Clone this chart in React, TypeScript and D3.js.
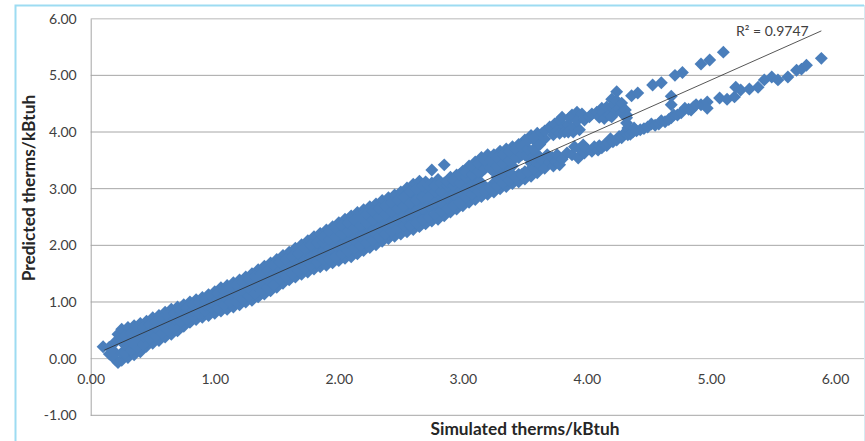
import React, { useEffect, useRef } from 'react';
import * as d3 from 'd3';

const width = 865;
const height = 441;

const xTicks = [0, 1, 2, 3, 4, 5, 6];
const yTicks = [-1, 0, 1, 2, 3, 4, 5, 6];

// dense part of the cloud: simulated value, then the predicted values read at it
const denseColumns: [number, number[]][] = [
  [0.10, [0.21]],
  [0.15, [0.08, 0.20]],
  [0.20, [-0.02, 0.10, 0.30]],
  [0.22, [-0.07, 0.43]],
  [0.25, [-0.03, 0.10, 0.30, 0.42, 0.52]],
  [0.30, [0.02, 0.20, 0.40, 0.55]],
  [0.35, [0.07, 0.18, 0.30, 0.50, 0.58]],
  [0.40, [0.12, 0.20, 0.40, 0.62]],
  [0.45, [0.22, 0.30, 0.50, 0.66]],
  [0.50, [0.27, 0.40, 0.60, 0.72]],
  [0.55, [0.32, 0.50, 0.70, 0.76]],
  [0.60, [0.38, 0.60, 0.82]],
  [0.65, [0.43, 0.50, 0.70, 0.87]],
  [0.70, [0.49, 0.60, 0.80, 0.91]],
  [0.75, [0.57, 0.70, 0.90, 0.95]],
  [0.80, [0.64, 0.80, 1.00]],
  [0.85, [0.69, 0.90, 1.04]],
  [0.90, [0.73, 0.80, 1.00, 1.08]],
  [0.95, [0.76, 0.95, 1.13]],
  [1.00, [0.80, 1.00, 1.18]],
  [1.05, [0.84, 0.95, 1.10, 1.25]],
  [1.10, [0.87, 1.00, 1.20, 1.29]],
  [1.15, [0.91, 1.05, 1.20, 1.34]],
  [1.20, [0.95, 1.10, 1.30, 1.39]],
  [1.25, [1.00, 1.20, 1.44]],
  [1.30, [1.03, 1.10, 1.30, 1.50]],
  [1.35, [1.09, 1.20, 1.40, 1.57]],
  [1.40, [1.14, 1.30, 1.50, 1.63]],
  [1.45, [1.20, 1.40, 1.60, 1.69]],
  [1.50, [1.26, 1.45, 1.60, 1.75]],
  [1.55, [1.33, 1.50, 1.70, 1.82]],
  [1.60, [1.39, 1.60, 1.80, 1.88]],
  [1.65, [1.44, 1.55, 1.70, 1.85, 1.95]],
  [1.70, [1.49, 1.60, 1.80, 2.01]],
  [1.75, [1.53, 1.70, 1.90, 2.08]],
  [1.80, [1.58, 1.80, 2.00, 2.15]],
  [1.85, [1.62, 1.70, 1.90, 2.10, 2.21]],
  [1.90, [1.65, 1.80, 2.00, 2.20, 2.27]],
  [1.95, [1.69, 1.90, 2.10, 2.33]],
  [2.00, [1.73, 1.80, 2.00, 2.20, 2.40]],
  [2.05, [1.77, 1.90, 2.10, 2.30, 2.46]],
  [2.10, [1.80, 2.00, 2.20, 2.40, 2.52]],
  [2.15, [1.85, 2.10, 2.30, 2.45, 2.58]],
  [2.20, [1.91, 2.00, 2.20, 2.40, 2.63]],
  [2.25, [1.96, 2.10, 2.30, 2.50, 2.68]],
  [2.30, [2.01, 2.20, 2.40, 2.60, 2.73]],
  [2.35, [2.07, 2.30, 2.50, 2.65, 2.79]],
  [2.40, [2.12, 2.20, 2.40, 2.60, 2.84]],
  [2.45, [2.16, 2.30, 2.50, 2.70, 2.89]],
  [2.50, [2.20, 2.40, 2.60, 2.80, 2.94]],
  [2.55, [2.24, 2.50, 2.70, 2.90, 3.01]],
  [2.60, [2.28, 2.40, 2.60, 2.80, 3.08]],
  [2.65, [2.33, 2.50, 2.70, 2.90, 3.13]],
  [2.70, [2.38, 2.60, 2.80, 3.00, 3.12]],
  [2.75, [2.43, 2.70, 2.90, 3.10, 3.33]],
  [2.80, [2.46, 2.60, 2.80, 3.00, 3.16]],
  [2.85, [2.52, 2.70, 2.90, 3.10, 3.42]],
  [2.90, [2.59, 2.80, 3.00, 3.20]],
  [2.95, [2.64, 2.90, 3.10, 3.24]],
  [3.00, [2.70, 2.80, 3.00, 3.20, 3.31]],
  [3.05, [2.76, 2.90, 3.10, 3.30, 3.40]],
  [3.10, [2.81, 3.00, 3.20, 3.35, 3.47]],
  [3.15, [2.86, 3.10, 3.30, 3.45, 3.55]],
  [3.20, [2.90, 3.00, 3.40, 3.60]],
  [3.25, [2.94, 3.10, 3.30, 3.50, 3.60]],
  [3.30, [3.00, 3.20, 3.40, 3.66]],
  [3.35, [3.04, 3.15, 3.30, 3.50, 3.70]],
  [3.40, [3.09, 3.20, 3.40, 3.60, 3.74]],
  [3.45, [3.12, 3.25, 3.55, 3.78]],
  [3.50, [3.17, 3.30, 3.60, 3.86]],
  [3.55, [3.22, 3.45, 3.65, 3.94]],
  [3.60, [3.28, 3.40, 3.60, 3.80, 3.98]],
];

// points between those columns, inside the band
const innerColumns: [number, number[]][] = [
  [0.275, [0.10, 0.25, 0.40]],
  [0.325, [0.15, 0.30, 0.45]],
  [0.375, [0.20, 0.35, 0.50]],
  [0.425, [0.25, 0.40, 0.55]],
  [0.475, [0.35, 0.50, 0.60]],
  [0.525, [0.40, 0.55, 0.65]],
  [0.575, [0.45, 0.60, 0.70]],
  [0.625, [0.50, 0.65, 0.75]],
  [0.675, [0.55, 0.70, 0.80]],
  [0.725, [0.65, 0.80, 0.85]],
  [0.775, [0.70, 0.85, 0.90]],
  [0.825, [0.75, 0.85, 0.95]],
  [0.875, [0.80, 0.90, 1.00]],
  [0.925, [0.85, 0.95, 1.05]],
  [0.975, [0.90, 1.00, 1.10]],
  [1.025, [0.90, 1.05, 1.15]],
  [1.075, [0.95, 1.10, 1.20]],
  [1.125, [1.00, 1.15, 1.25]],
  [1.175, [1.00, 1.15, 1.30]],
  [1.225, [1.05, 1.20, 1.35]],
  [1.275, [1.10, 1.25, 1.40]],
  [1.325, [1.15, 1.30, 1.45]],
  [1.375, [1.20, 1.35, 1.50]],
  [1.425, [1.25, 1.40, 1.55]],
  [1.475, [1.30, 1.50, 1.65]],
  [1.525, [1.40, 1.55, 1.70]],
  [1.575, [1.45, 1.60, 1.75]],
  [1.625, [1.50, 1.65, 1.80]],
  [1.675, [1.55, 1.70, 1.85]],
  [1.725, [1.60, 1.75, 1.95]],
  [1.775, [1.65, 1.80, 2.00]],
  [1.825, [1.70, 1.85, 2.05]],
  [1.875, [1.75, 1.90, 2.05, 2.15]],
  [1.925, [1.75, 1.95, 2.10, 2.25]],
  [1.975, [1.80, 2.00, 2.15, 2.30]],
  [2.025, [1.85, 2.00, 2.20, 2.35]],
  [2.075, [1.90, 2.05, 2.25, 2.40]],
  [2.125, [1.95, 2.10, 2.30, 2.45]],
  [2.175, [2.00, 2.15, 2.35, 2.50]],
  [2.225, [2.05, 2.20, 2.40, 2.55]],
  [2.275, [2.10, 2.25, 2.45, 2.60]],
  [2.325, [2.15, 2.30, 2.50, 2.65]],
  [2.375, [2.20, 2.35, 2.55, 2.70]],
  [2.425, [2.25, 2.40, 2.60, 2.75]],
  [2.475, [2.30, 2.45, 2.65, 2.80]],
  [2.525, [2.35, 2.50, 2.70, 2.85]],
  [2.575, [2.35, 2.55, 2.75, 2.95]],
  [2.625, [2.40, 2.60, 2.80, 3.00]],
  [2.675, [2.45, 2.65, 2.85, 3.05]],
  [2.725, [2.50, 2.70, 2.85, 3.05]],
  [2.775, [2.55, 2.75, 2.95, 3.05]],
  [2.825, [2.60, 2.75, 2.95, 3.10]],
  [2.875, [2.65, 2.85, 3.05, 3.12]],
  [2.925, [2.70, 2.90, 3.05, 3.15]],
  [2.975, [2.75, 2.95, 3.10, 3.25]],
  [3.025, [2.85, 3.00, 3.20, 3.30]],
  [3.075, [2.90, 3.05, 3.25, 3.40]],
  [3.125, [2.95, 3.10, 3.30, 3.45]],
  [3.175, [2.95, 3.35, 3.50]],
  [3.225, [3.00, 3.35, 3.50]],
  [3.275, [3.05, 3.20, 3.40, 3.55]],
  [3.325, [3.10, 3.25, 3.45, 3.60]],
  [3.375, [3.15, 3.30, 3.50, 3.65]],
  [3.425, [3.20, 3.55, 3.70]],
  [3.475, [3.25, 3.60, 3.75]],
  [3.525, [3.30, 3.55, 3.70, 3.85]],
  [3.575, [3.35, 3.50, 3.70, 3.90]],
];

// upper arm of the cloud above x = 3.6
const upperArm: [number, number][] = [
  [3.62, 3.78], [3.64, 3.98], [3.66, 3.88], [3.66, 4.02], [3.70, 4.09], [3.73, 3.95],
  [3.74, 4.14], [3.76, 4.02], [3.78, 4.21], [3.78, 3.98], [3.80, 4.26], [3.82, 4.10],
  [3.82, 4.00], [3.85, 4.13], [3.85, 4.00], [3.86, 4.25], [3.88, 4.30], [3.89, 4.00],
  [3.90, 4.09], [3.92, 4.35], [3.94, 4.04], [3.92, 4.20], [3.96, 4.32], [3.98, 4.21],
  [4.02, 4.27], [4.04, 4.32], [4.08, 4.35], [4.10, 4.26], [4.12, 4.42], [4.13, 4.34],
  [4.14, 4.24], [4.16, 4.44], [4.18, 4.30], [4.20, 4.44], [4.20, 4.27], [4.20, 4.58],
  [4.22, 4.48], [4.24, 4.71], [4.24, 4.55], [4.24, 4.38], [4.26, 4.42], [4.28, 4.51],
  [4.28, 4.34], [4.31, 4.39], [4.32, 4.30], [4.32, 4.25], [4.36, 4.64], [4.41, 4.69],
  [4.53, 4.83], [4.60, 4.87], [4.71, 5.00], [4.77, 5.05], [4.92, 5.20], [4.99, 5.27],
  [5.10, 5.41], [4.68, 4.63], [4.68, 4.48],
];

// lower arm of the cloud above x = 3.6
const lowerArm: [number, number][] = [
  [3.62, 3.56], [3.62, 3.42], [3.64, 3.50], [3.66, 3.36], [3.68, 3.60], [3.70, 3.46],
  [3.72, 3.55], [3.73, 3.40], [3.75, 3.48], [3.76, 3.60], [3.78, 3.42], [3.80, 3.52],
  [3.84, 3.63], [3.88, 3.60], [3.90, 3.74], [3.93, 3.54], [3.94, 3.70], [3.97, 3.77],
  [3.98, 3.63], [4.00, 3.70], [4.04, 3.66], [4.06, 3.74], [4.09, 3.68], [4.10, 3.76],
  [4.12, 3.72], [4.14, 3.77], [4.16, 3.76], [4.17, 3.81], [4.19, 3.88], [4.21, 3.83],
  [4.24, 3.86], [4.26, 3.92], [4.28, 3.90], [4.29, 3.95], [4.31, 3.98], [4.33, 3.95],
  [4.33, 4.07], [4.32, 4.16], [4.35, 3.96], [4.37, 4.00], [4.38, 4.07], [4.40, 4.02],
  [4.43, 4.04], [4.46, 4.06], [4.49, 4.09], [4.52, 4.14], [4.55, 4.12], [4.58, 4.14],
  [4.60, 4.20], [4.63, 4.18], [4.66, 4.22], [4.68, 4.25], [4.70, 4.30], [4.73, 4.30],
  [4.76, 4.34], [4.79, 4.42], [4.82, 4.40], [4.84, 4.39], [4.86, 4.44], [4.88, 4.48],
  [4.92, 4.48], [4.97, 4.53], [4.97, 4.42], [5.07, 4.60], [5.13, 4.58], [5.19, 4.62],
  [5.20, 4.79], [5.24, 4.74], [5.31, 4.76], [5.38, 4.79], [5.43, 4.92], [5.49, 4.97],
  [5.54, 4.92], [5.62, 4.97], [5.69, 5.09], [5.73, 5.11], [5.77, 5.18], [5.89, 5.30],
];

const trendSimulated = [0.11, 5.89];
const trendPredicted = [0.15, 5.785];
const trendLabel = 'R² = 0.9747';

const xTitle = 'Simulated therms/kBtuh';
const yTitle = 'Predicted therms/kBtuh';

const font = 'Lato, sans-serif';

const App = () => {
  const ref = useRef<SVGSVGElement>(null);

  useEffect(() => {
    const svg = d3.select(ref.current);
    svg.selectAll('*').remove();

    const x = d3.scaleLinear().domain([0, 6]).range([90.7, 835]);
    const y = d3.scaleLinear().domain([-1, 6]).range([415.3, 18.7]);
    const plotRight = 864;

    // outer frame of the pasted picture
    svg.append('path')
      .attr('d', `M15.5,${height}V5.5H${plotRight}`)
      .attr('fill', 'none')
      .attr('stroke', '#9ddcf2')
      .attr('stroke-width', 2);
    svg.append('line')
      .attr('x1', 864.5).attr('x2', 864.5).attr('y1', 5).attr('y2', height)
      .attr('stroke', '#d6eaf2');

    // gridlines
    svg.append('g').selectAll('line')
      .data(yTicks)
      .join('line')
      .attr('x1', x(0))
      .attr('x2', plotRight)
      .attr('y1', (d) => y(d))
      .attr('y2', (d) => y(d))
      .attr('stroke', (d) => (d === 6 ? '#d0d0d0' : d === 0 ? '#bdbdbd' : '#a6a6a6'))
      .attr('stroke-width', (d) => (d === 6 ? 1.5 : 1));

    // axes
    const tickText = (d: d3.NumberValue) => (+d).toFixed(2);
    const gy = svg.append('g')
      .attr('transform', `translate(${x(0)},0)`)
      .call(d3.axisLeft(y).tickValues(yTicks).tickFormat(tickText).tickSize(0).tickPadding(14));
    gy.select('.domain').attr('stroke', '#a6a6a6');

    const gx = svg.append('g')
      .attr('transform', `translate(0,${y(0)})`)
      .call(d3.axisBottom(x).tickValues(xTicks).tickFormat(tickText).tickSize(0).tickPadding(15));
    gx.select('.domain').remove();

    svg.selectAll('.tick text')
      .attr('font-family', font)
      .attr('font-size', 14)
      .attr('fill', '#404040');

    // scatter
    const toPoints = (cols: [number, number[]][]) =>
      cols.flatMap(([sim, preds]) => preds.map((p): [number, number] => [sim, p]));
    const points: [number, number][] = [
      ...toPoints(denseColumns),
      ...toPoints(innerColumns),
      ...upperArm,
      ...lowerArm,
    ];
    const diamond = d3.symbol().type(d3.symbolSquare).size(84);
    svg.append('g').selectAll('path')
      .data(points)
      .join('path')
      .attr('d', diamond() as string)
      .attr('transform', (d) => `translate(${x(d[0])},${y(d[1])}) rotate(45)`)
      .attr('fill', '#4a7ebb');

    // trendline
    const line = d3.line<number>()
      .x((d) => x(d))
      .y((_, i) => y(trendPredicted[i]));
    svg.append('path')
      .attr('d', line(trendSimulated))
      .attr('fill', 'none')
      .attr('stroke', '#2b2b2b')
      .attr('stroke-width', 0.8);

    svg.append('text')
      .attr('x', 736)
      .attr('y', 36)
      .attr('font-family', font)
      .attr('font-size', 14)
      .attr('fill', '#404040')
      .text(trendLabel);

    // axis titles
    svg.append('text')
      .attr('x', 525)
      .attr('y', 435)
      .attr('text-anchor', 'middle')
      .attr('font-family', font)
      .attr('font-weight', 700)
      .attr('font-size', 17.3)
      .attr('fill', '#262626')
      .text(xTitle);
    svg.append('text')
      .attr('transform', 'translate(35,188) rotate(-90)')
      .attr('text-anchor', 'middle')
      .attr('font-family', font)
      .attr('font-weight', 700)
      .attr('font-size', 17.3)
      .attr('fill', '#262626')
      .text(yTitle);
  }, []);

  return (
    <svg
      ref={ref}
      width={width}
      height={height}
      style={{ position: 'absolute', left: 0, top: 0, background: '#fff' }}
    />
  );
};

export default App;
